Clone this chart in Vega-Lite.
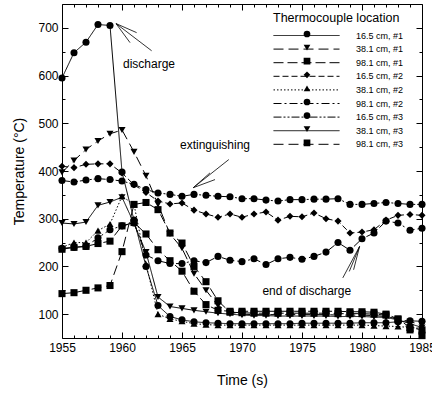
{
  "$schema": "https://vega.github.io/schema/vega-lite/v6.json",
  "width": 360,
  "height": 334,
  "autosize": {"type": "none"},
  "padding": {"left": 62, "top": 4, "right": 10, "bottom": 56},
  "config": {
    "view": {"stroke": null},
    "font": "Liberation Sans",
    "axis": {"domainColor": "black", "tickColor": "black", "labelColor": "black", "titleColor": "black", "grid": false, "labelFont": "Liberation Sans", "titleFont": "Liberation Sans", "titleFontWeight": "normal", "labelFontSize": 12, "titleFontSize": 14}
  },
  "datasets": {
    "series": [
      {"s":"16.5 cm, #1","t":1955,"T":595},{"s":"16.5 cm, #1","t":1956,"T":648},{"s":"16.5 cm, #1","t":1957,"T":670},{"s":"16.5 cm, #1","t":1958,"T":707},{"s":"16.5 cm, #1","t":1959,"T":705},{"s":"16.5 cm, #1","t":1960,"T":398},{"s":"16.5 cm, #1","t":1961,"T":297},{"s":"16.5 cm, #1","t":1962,"T":200},{"s":"16.5 cm, #1","t":1963,"T":118},{"s":"16.5 cm, #1","t":1964,"T":95},{"s":"16.5 cm, #1","t":1965,"T":88},{"s":"16.5 cm, #1","t":1966,"T":84},{"s":"16.5 cm, #1","t":1967,"T":82},{"s":"16.5 cm, #1","t":1968,"T":81},{"s":"16.5 cm, #1","t":1969,"T":80},{"s":"16.5 cm, #1","t":1970,"T":80},{"s":"16.5 cm, #1","t":1971,"T":80},{"s":"16.5 cm, #1","t":1972,"T":80},{"s":"16.5 cm, #1","t":1973,"T":80},{"s":"16.5 cm, #1","t":1974,"T":80},{"s":"16.5 cm, #1","t":1975,"T":81},{"s":"16.5 cm, #1","t":1976,"T":81},{"s":"16.5 cm, #1","t":1977,"T":81},{"s":"16.5 cm, #1","t":1978,"T":81},{"s":"16.5 cm, #1","t":1979,"T":81},{"s":"16.5 cm, #1","t":1980,"T":82},{"s":"16.5 cm, #1","t":1981,"T":82},{"s":"16.5 cm, #1","t":1982,"T":82},{"s":"16.5 cm, #1","t":1983,"T":84},{"s":"16.5 cm, #1","t":1984,"T":86},{"s":"16.5 cm, #1","t":1985,"T":85},
      {"s":"38.1 cm, #1","t":1955,"T":397},{"s":"38.1 cm, #1","t":1956,"T":422},{"s":"38.1 cm, #1","t":1957,"T":445},{"s":"38.1 cm, #1","t":1958,"T":463},{"s":"38.1 cm, #1","t":1959,"T":478},{"s":"38.1 cm, #1","t":1960,"T":486},{"s":"38.1 cm, #1","t":1961,"T":440},{"s":"38.1 cm, #1","t":1962,"T":390},{"s":"38.1 cm, #1","t":1963,"T":330},{"s":"38.1 cm, #1","t":1964,"T":268},{"s":"38.1 cm, #1","t":1965,"T":238},{"s":"38.1 cm, #1","t":1966,"T":185},{"s":"38.1 cm, #1","t":1967,"T":150},{"s":"38.1 cm, #1","t":1968,"T":118},{"s":"38.1 cm, #1","t":1969,"T":104},{"s":"38.1 cm, #1","t":1970,"T":100},{"s":"38.1 cm, #1","t":1971,"T":99},{"s":"38.1 cm, #1","t":1972,"T":99},{"s":"38.1 cm, #1","t":1973,"T":99},{"s":"38.1 cm, #1","t":1974,"T":99},{"s":"38.1 cm, #1","t":1975,"T":99},{"s":"38.1 cm, #1","t":1976,"T":99},{"s":"38.1 cm, #1","t":1977,"T":99},{"s":"38.1 cm, #1","t":1978,"T":98},{"s":"38.1 cm, #1","t":1979,"T":98},{"s":"38.1 cm, #1","t":1980,"T":98},{"s":"38.1 cm, #1","t":1981,"T":97},{"s":"38.1 cm, #1","t":1982,"T":95},{"s":"38.1 cm, #1","t":1983,"T":90},{"s":"38.1 cm, #1","t":1984,"T":84},{"s":"38.1 cm, #1","t":1985,"T":78},
      {"s":"98.1 cm, #1","t":1955,"T":236},{"s":"98.1 cm, #1","t":1956,"T":240},{"s":"98.1 cm, #1","t":1957,"T":242},{"s":"98.1 cm, #1","t":1958,"T":248},{"s":"98.1 cm, #1","t":1959,"T":253},{"s":"98.1 cm, #1","t":1960,"T":285},{"s":"98.1 cm, #1","t":1961,"T":292},{"s":"98.1 cm, #1","t":1962,"T":268},{"s":"98.1 cm, #1","t":1963,"T":235},{"s":"98.1 cm, #1","t":1964,"T":212},{"s":"98.1 cm, #1","t":1965,"T":190},{"s":"98.1 cm, #1","t":1966,"T":148},{"s":"98.1 cm, #1","t":1967,"T":120},{"s":"98.1 cm, #1","t":1968,"T":108},{"s":"98.1 cm, #1","t":1969,"T":106},{"s":"98.1 cm, #1","t":1970,"T":106},{"s":"98.1 cm, #1","t":1971,"T":106},{"s":"98.1 cm, #1","t":1972,"T":106},{"s":"98.1 cm, #1","t":1973,"T":106},{"s":"98.1 cm, #1","t":1974,"T":106},{"s":"98.1 cm, #1","t":1975,"T":106},{"s":"98.1 cm, #1","t":1976,"T":106},{"s":"98.1 cm, #1","t":1977,"T":106},{"s":"98.1 cm, #1","t":1978,"T":106},{"s":"98.1 cm, #1","t":1979,"T":105},{"s":"98.1 cm, #1","t":1980,"T":105},{"s":"98.1 cm, #1","t":1981,"T":104},{"s":"98.1 cm, #1","t":1982,"T":100},{"s":"98.1 cm, #1","t":1983,"T":90},{"s":"98.1 cm, #1","t":1984,"T":72},{"s":"98.1 cm, #1","t":1985,"T":67},
      {"s":"16.5 cm, #2","t":1955,"T":410},{"s":"16.5 cm, #2","t":1956,"T":407},{"s":"16.5 cm, #2","t":1957,"T":414},{"s":"16.5 cm, #2","t":1958,"T":415},{"s":"16.5 cm, #2","t":1959,"T":415},{"s":"16.5 cm, #2","t":1960,"T":396},{"s":"16.5 cm, #2","t":1961,"T":371},{"s":"16.5 cm, #2","t":1962,"T":355},{"s":"16.5 cm, #2","t":1963,"T":337},{"s":"16.5 cm, #2","t":1964,"T":331},{"s":"16.5 cm, #2","t":1965,"T":333},{"s":"16.5 cm, #2","t":1966,"T":318},{"s":"16.5 cm, #2","t":1967,"T":310},{"s":"16.5 cm, #2","t":1968,"T":303},{"s":"16.5 cm, #2","t":1969,"T":310},{"s":"16.5 cm, #2","t":1970,"T":303},{"s":"16.5 cm, #2","t":1971,"T":310},{"s":"16.5 cm, #2","t":1972,"T":314},{"s":"16.5 cm, #2","t":1973,"T":297},{"s":"16.5 cm, #2","t":1974,"T":305},{"s":"16.5 cm, #2","t":1975,"T":304},{"s":"16.5 cm, #2","t":1976,"T":312},{"s":"16.5 cm, #2","t":1977,"T":300},{"s":"16.5 cm, #2","t":1978,"T":295},{"s":"16.5 cm, #2","t":1979,"T":270},{"s":"16.5 cm, #2","t":1980,"T":272},{"s":"16.5 cm, #2","t":1981,"T":277},{"s":"16.5 cm, #2","t":1982,"T":297},{"s":"16.5 cm, #2","t":1983,"T":307},{"s":"16.5 cm, #2","t":1984,"T":309},{"s":"16.5 cm, #2","t":1985,"T":307},
      {"s":"38.1 cm, #2","t":1955,"T":240},{"s":"38.1 cm, #2","t":1956,"T":250},{"s":"38.1 cm, #2","t":1957,"T":250},{"s":"38.1 cm, #2","t":1958,"T":275},{"s":"38.1 cm, #2","t":1959,"T":289},{"s":"38.1 cm, #2","t":1960,"T":347},{"s":"38.1 cm, #2","t":1961,"T":330},{"s":"38.1 cm, #2","t":1962,"T":205},{"s":"38.1 cm, #2","t":1963,"T":100},{"s":"38.1 cm, #2","t":1964,"T":90},{"s":"38.1 cm, #2","t":1965,"T":85},{"s":"38.1 cm, #2","t":1966,"T":80},{"s":"38.1 cm, #2","t":1967,"T":78},{"s":"38.1 cm, #2","t":1968,"T":77},{"s":"38.1 cm, #2","t":1969,"T":77},{"s":"38.1 cm, #2","t":1970,"T":77},{"s":"38.1 cm, #2","t":1971,"T":77},{"s":"38.1 cm, #2","t":1972,"T":77},{"s":"38.1 cm, #2","t":1973,"T":77},{"s":"38.1 cm, #2","t":1974,"T":77},{"s":"38.1 cm, #2","t":1975,"T":77},{"s":"38.1 cm, #2","t":1976,"T":77},{"s":"38.1 cm, #2","t":1977,"T":77},{"s":"38.1 cm, #2","t":1978,"T":77},{"s":"38.1 cm, #2","t":1979,"T":77},{"s":"38.1 cm, #2","t":1980,"T":77},{"s":"38.1 cm, #2","t":1981,"T":76},{"s":"38.1 cm, #2","t":1982,"T":75},{"s":"38.1 cm, #2","t":1983,"T":74},{"s":"38.1 cm, #2","t":1984,"T":72},{"s":"38.1 cm, #2","t":1985,"T":70},
      {"s":"98.1 cm, #2","t":1955,"T":238},{"s":"98.1 cm, #2","t":1956,"T":240},{"s":"98.1 cm, #2","t":1957,"T":242},{"s":"98.1 cm, #2","t":1958,"T":260},{"s":"98.1 cm, #2","t":1959,"T":277},{"s":"98.1 cm, #2","t":1960,"T":285},{"s":"98.1 cm, #2","t":1961,"T":291},{"s":"98.1 cm, #2","t":1962,"T":224},{"s":"98.1 cm, #2","t":1963,"T":212},{"s":"98.1 cm, #2","t":1964,"T":206},{"s":"98.1 cm, #2","t":1965,"T":206},{"s":"98.1 cm, #2","t":1966,"T":212},{"s":"98.1 cm, #2","t":1967,"T":208},{"s":"98.1 cm, #2","t":1968,"T":221},{"s":"98.1 cm, #2","t":1969,"T":213},{"s":"98.1 cm, #2","t":1970,"T":210},{"s":"98.1 cm, #2","t":1971,"T":216},{"s":"98.1 cm, #2","t":1972,"T":204},{"s":"98.1 cm, #2","t":1973,"T":216},{"s":"98.1 cm, #2","t":1974,"T":219},{"s":"98.1 cm, #2","t":1975,"T":215},{"s":"98.1 cm, #2","t":1976,"T":221},{"s":"98.1 cm, #2","t":1977,"T":230},{"s":"98.1 cm, #2","t":1978,"T":250},{"s":"98.1 cm, #2","t":1979,"T":234},{"s":"98.1 cm, #2","t":1980,"T":258},{"s":"98.1 cm, #2","t":1981,"T":270},{"s":"98.1 cm, #2","t":1982,"T":295},{"s":"98.1 cm, #2","t":1983,"T":291},{"s":"98.1 cm, #2","t":1984,"T":276},{"s":"98.1 cm, #2","t":1985,"T":280},
      {"s":"16.5 cm, #3","t":1955,"T":380},{"s":"16.5 cm, #3","t":1956,"T":377},{"s":"16.5 cm, #3","t":1957,"T":381},{"s":"16.5 cm, #3","t":1958,"T":384},{"s":"16.5 cm, #3","t":1959,"T":382},{"s":"16.5 cm, #3","t":1960,"T":379},{"s":"16.5 cm, #3","t":1961,"T":372},{"s":"16.5 cm, #3","t":1962,"T":361},{"s":"16.5 cm, #3","t":1963,"T":354},{"s":"16.5 cm, #3","t":1964,"T":351},{"s":"16.5 cm, #3","t":1965,"T":347},{"s":"16.5 cm, #3","t":1966,"T":351},{"s":"16.5 cm, #3","t":1967,"T":349},{"s":"16.5 cm, #3","t":1968,"T":347},{"s":"16.5 cm, #3","t":1969,"T":346},{"s":"16.5 cm, #3","t":1970,"T":342},{"s":"16.5 cm, #3","t":1971,"T":342},{"s":"16.5 cm, #3","t":1972,"T":339},{"s":"16.5 cm, #3","t":1973,"T":337},{"s":"16.5 cm, #3","t":1974,"T":340},{"s":"16.5 cm, #3","t":1975,"T":340},{"s":"16.5 cm, #3","t":1976,"T":341},{"s":"16.5 cm, #3","t":1977,"T":341},{"s":"16.5 cm, #3","t":1978,"T":342},{"s":"16.5 cm, #3","t":1979,"T":330},{"s":"16.5 cm, #3","t":1980,"T":330},{"s":"16.5 cm, #3","t":1981,"T":332},{"s":"16.5 cm, #3","t":1982,"T":334},{"s":"16.5 cm, #3","t":1983,"T":332},{"s":"16.5 cm, #3","t":1984,"T":330},{"s":"16.5 cm, #3","t":1985,"T":330},
      {"s":"38.1 cm, #3","t":1955,"T":291},{"s":"38.1 cm, #3","t":1956,"T":289},{"s":"38.1 cm, #3","t":1957,"T":293},{"s":"38.1 cm, #3","t":1958,"T":328},{"s":"38.1 cm, #3","t":1959,"T":335},{"s":"38.1 cm, #3","t":1960,"T":345},{"s":"38.1 cm, #3","t":1961,"T":290},{"s":"38.1 cm, #3","t":1962,"T":230},{"s":"38.1 cm, #3","t":1963,"T":136},{"s":"38.1 cm, #3","t":1964,"T":116},{"s":"38.1 cm, #3","t":1965,"T":112},{"s":"38.1 cm, #3","t":1966,"T":108},{"s":"38.1 cm, #3","t":1967,"T":105},{"s":"38.1 cm, #3","t":1968,"T":102},{"s":"38.1 cm, #3","t":1969,"T":100},{"s":"38.1 cm, #3","t":1970,"T":98},{"s":"38.1 cm, #3","t":1971,"T":97},{"s":"38.1 cm, #3","t":1972,"T":97},{"s":"38.1 cm, #3","t":1973,"T":96},{"s":"38.1 cm, #3","t":1974,"T":96},{"s":"38.1 cm, #3","t":1975,"T":96},{"s":"38.1 cm, #3","t":1976,"T":96},{"s":"38.1 cm, #3","t":1977,"T":96},{"s":"38.1 cm, #3","t":1978,"T":95},{"s":"38.1 cm, #3","t":1979,"T":95},{"s":"38.1 cm, #3","t":1980,"T":95},{"s":"38.1 cm, #3","t":1981,"T":94},{"s":"38.1 cm, #3","t":1982,"T":93},{"s":"38.1 cm, #3","t":1983,"T":88},{"s":"38.1 cm, #3","t":1984,"T":80},{"s":"38.1 cm, #3","t":1985,"T":72},
      {"s":"98.1 cm, #3","t":1955,"T":143},{"s":"98.1 cm, #3","t":1956,"T":145},{"s":"98.1 cm, #3","t":1957,"T":150},{"s":"98.1 cm, #3","t":1958,"T":155},{"s":"98.1 cm, #3","t":1959,"T":160},{"s":"98.1 cm, #3","t":1960,"T":231},{"s":"98.1 cm, #3","t":1961,"T":330},{"s":"98.1 cm, #3","t":1962,"T":334},{"s":"98.1 cm, #3","t":1963,"T":319},{"s":"98.1 cm, #3","t":1964,"T":270},{"s":"98.1 cm, #3","t":1965,"T":249},{"s":"98.1 cm, #3","t":1966,"T":200},{"s":"98.1 cm, #3","t":1967,"T":168},{"s":"98.1 cm, #3","t":1968,"T":128},{"s":"98.1 cm, #3","t":1969,"T":104},{"s":"98.1 cm, #3","t":1970,"T":103},{"s":"98.1 cm, #3","t":1971,"T":102},{"s":"98.1 cm, #3","t":1972,"T":102},{"s":"98.1 cm, #3","t":1973,"T":102},{"s":"98.1 cm, #3","t":1974,"T":102},{"s":"98.1 cm, #3","t":1975,"T":102},{"s":"98.1 cm, #3","t":1976,"T":102},{"s":"98.1 cm, #3","t":1977,"T":102},{"s":"98.1 cm, #3","t":1978,"T":101},{"s":"98.1 cm, #3","t":1979,"T":101},{"s":"98.1 cm, #3","t":1980,"T":101},{"s":"98.1 cm, #3","t":1981,"T":100},{"s":"98.1 cm, #3","t":1982,"T":98},{"s":"98.1 cm, #3","t":1983,"T":88},{"s":"98.1 cm, #3","t":1984,"T":67},{"s":"98.1 cm, #3","t":1985,"T":55}
    ],
    "notes": [
      {"label": "discharge", "t": 1962.25, "T": 624},
      {"label": "extinguishing", "t": 1967.75, "T": 454},
      {"label": "end of discharge", "t": 1975.4, "T": 149}
    ],
    "arrows": [
      {"t": 1959.5, "T": 709, "t2": 1962.47, "T2": 652},
      {"t": 1959.5, "T": 709, "t2": 1961.22, "T2": 690},
      {"t": 1959.5, "T": 709, "t2": 1960.67, "T2": 669},
      {"t": 1965.94, "T": 365, "t2": 1968.9, "T2": 424},
      {"t": 1965.94, "T": 365, "t2": 1967.33, "T2": 396},
      {"t": 1965.94, "T": 365, "t2": 1967.75, "T2": 382},
      {"t": 1979.8, "T": 242, "t2": 1978.4, "T2": 176},
      {"t": 1979.8, "T": 242, "t2": 1978.94, "T2": 189.5},
      {"t": 1979.8, "T": 242, "t2": 1979.3, "T2": 193}
    ]
  },
  "resolve": {"axis": {"x": "independent", "y": "independent"}},
  "layer": [
    {
      "data": {"name": "series"},
      "mark": {"type": "line", "strokeWidth": 1, "color": "black"},
      "encoding": {
        "x": {"field": "t", "type": "quantitative", "scale": {"domain": [1955, 1985], "nice": false, "zero": false},
          "axis": {"orient": "bottom", "title": "Time (s)", "format": "d", "values": [1955,1956,1957,1958,1959,1960,1961,1962,1963,1964,1965,1966,1967,1968,1969,1970,1971,1972,1973,1974,1975,1976,1977,1978,1979,1980,1981,1982,1983,1984,1985],
            "labelExpr": "datum.value % 5 === 0 ? datum.label : ''",
            "tickSize": {"condition": {"test": "datum.value % 5 === 0", "value": -6}, "value": -3},
            "labelPadding": 10, "titlePadding": 17, "labelFlush": false, "labelOverlap": false}},
        "y": {"field": "T", "type": "quantitative", "scale": {"domain": [50, 750], "nice": false, "zero": false},
          "axis": {"orient": "left", "title": "Temperature (°C)", "values": [100,150,200,250,300,350,400,450,500,550,600,650,700],
            "labelExpr": "datum.value % 100 === 0 ? datum.label : ''",
            "tickSize": {"condition": {"test": "datum.value % 100 === 0", "value": -6}, "value": -3},
            "labelPadding": 10, "titlePadding": 11, "labelOverlap": false}},
        "strokeDash": {"field": "s", "type": "nominal",
          "scale": {"domain": ["16.5 cm, #1","38.1 cm, #1","98.1 cm, #1","16.5 cm, #2","38.1 cm, #2","98.1 cm, #2","16.5 cm, #3","38.1 cm, #3","98.1 cm, #3"],
            "range": [[1,0],[10,5],[10,4],[6,3],[1.5,2],[8,3,2,3],[8,2,2,2,2,2],[1,0],[10,5]]},
          "legend": {
            "title": "Thermocouple location", "orient": "none", "legendX": 211, "legendY": 8,
            "titleFont": "Liberation Sans", "titleFontSize": 12.5, "titleFontWeight": "normal", "titleColor": "black", "titlePadding": 6,
            "labelFont": "Liberation Sans", "labelFontSize": 9, "labelColor": "black", "labelLimit": 0,
            "symbolType": "stroke", "symbolSize": 4356, "symbolStrokeWidth": 1, "symbolStrokeColor": "black",
            "symbolOffset": 0, "labelOffset": 16, "clipHeight": 10, "rowPadding": 3.6, "padding": 0}
        }
      }
    },
    {
      "data": {"name": "series"},
      "mark": {"type": "point", "filled": true, "color": "black", "opacity": 1, "size": 50},
      "encoding": {
        "x": {"field": "t", "type": "quantitative",
          "axis": {"orient": "top", "labels": false, "title": null, "values": [1955,1956,1957,1958,1959,1960,1961,1962,1963,1964,1965,1966,1967,1968,1969,1970,1971,1972,1973,1974,1975,1976,1977,1978,1979,1980,1981,1982,1983,1984,1985],
            "tickSize": {"condition": {"test": "datum.value % 5 === 0", "value": -6}, "value": -3}}},
        "y": {"field": "T", "type": "quantitative",
          "axis": {"orient": "right", "labels": false, "title": null, "values": [100,150,200,250,300,350,400,450,500,550,600,650,700],
            "tickSize": {"condition": {"test": "datum.value % 100 === 0", "value": -6}, "value": -3}}},
        "shape": {"field": "s", "type": "nominal",
          "scale": {"domain": ["16.5 cm, #1","38.1 cm, #1","98.1 cm, #1","16.5 cm, #2","38.1 cm, #2","98.1 cm, #2","16.5 cm, #3","38.1 cm, #3","98.1 cm, #3","other"],
            "range": ["circle","triangle-down","square","diamond","triangle-up","circle","circle","triangle-down","square","circle"]},
          "legend": {
            "title": null, "orient": "none", "legendX": 240.5, "legendY": 25,
            "values": ["16.5 cm, #1","38.1 cm, #1","98.1 cm, #1","16.5 cm, #2","38.1 cm, #2","98.1 cm, #2","16.5 cm, #3","38.1 cm, #3","98.1 cm, #3"],
            "labelExpr": "''", "labelFontSize": 9,
            "symbolSize": 45, "symbolFillColor": "black", "symbolStrokeColor": "black", "symbolStrokeWidth": 0, "symbolOpacity": 1,
            "symbolOffset": 0, "clipHeight": 10, "rowPadding": 3.6, "padding": 0}
        }
      }
    },
    {
      "data": {"name": "arrows"},
      "mark": {"type": "rule", "color": "black", "strokeWidth": 0.8},
      "encoding": {
        "x": {"field": "t", "type": "quantitative", "axis": null},
        "y": {"field": "T", "type": "quantitative", "axis": null},
        "x2": {"field": "t2"},
        "y2": {"field": "T2"}
      }
    },
    {
      "data": {"name": "notes"},
      "mark": {"type": "text", "font": "Liberation Sans", "fontSize": 12, "color": "black", "align": "center", "baseline": "middle"},
      "encoding": {
        "x": {"field": "t", "type": "quantitative", "axis": null},
        "y": {"field": "T", "type": "quantitative", "axis": null},
        "text": {"field": "label"}
      }
    }
  ]
}
